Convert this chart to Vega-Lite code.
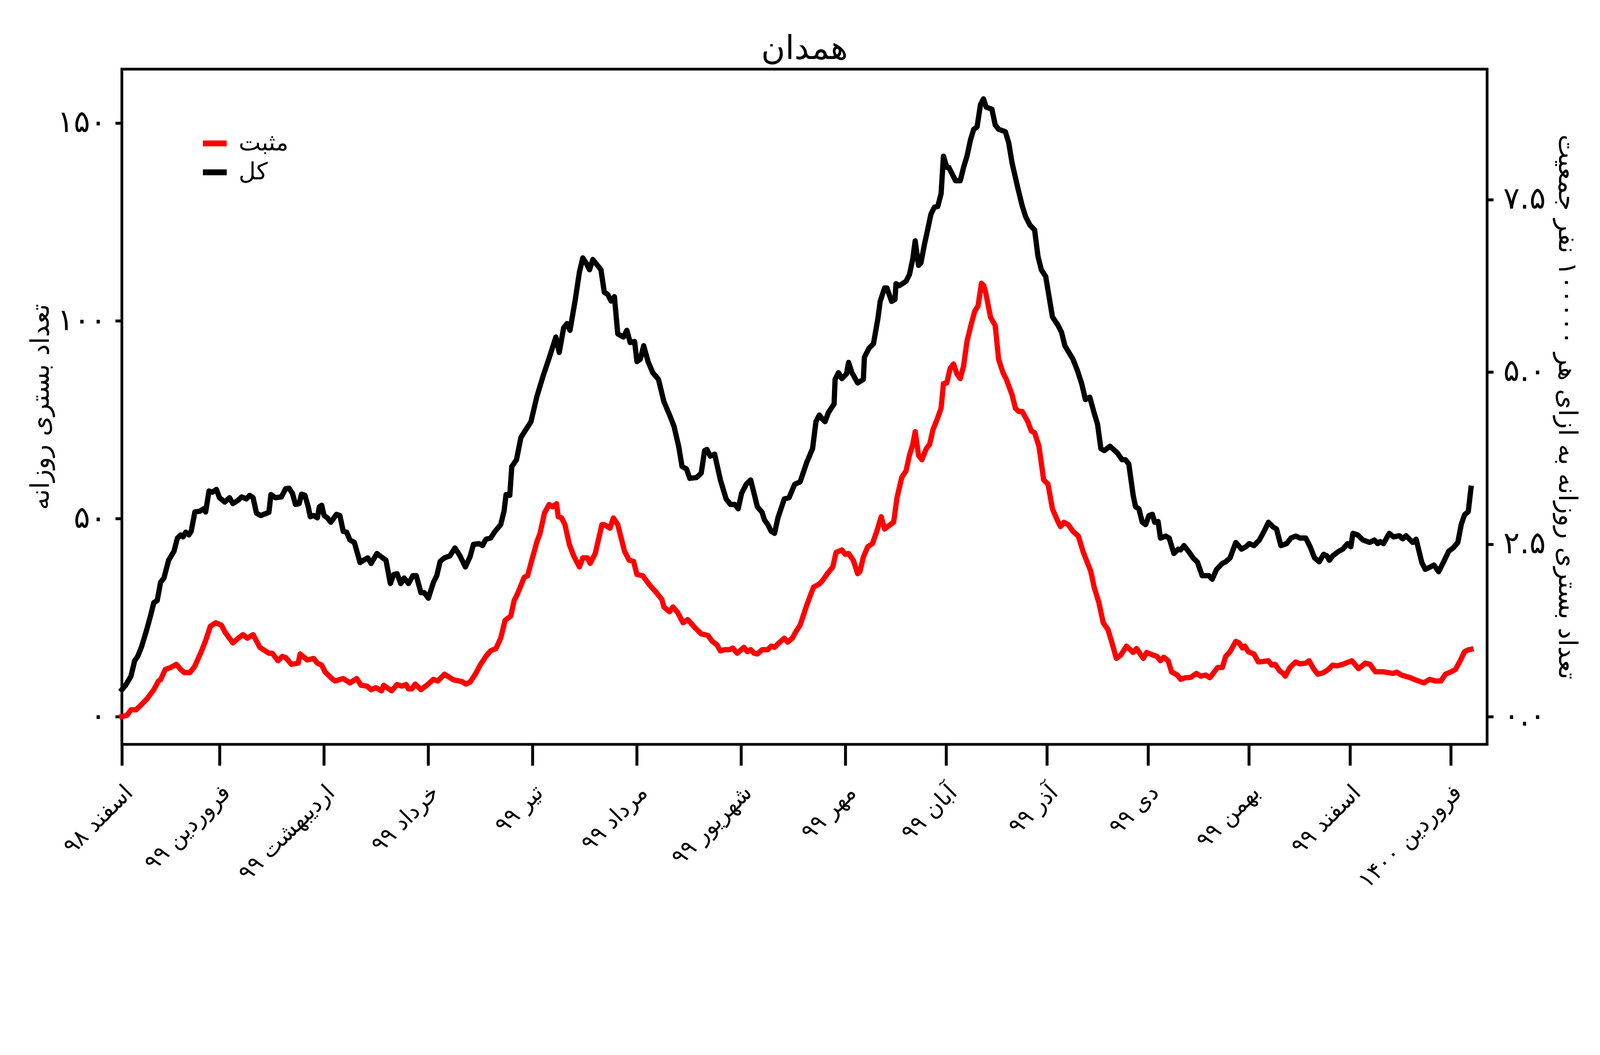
{
  "$schema": "https://vega.github.io/schema/vega-lite/v6.json",
  "width": 3495,
  "height": 1728,
  "autosize": {"type": "none"},
  "padding": {"left": 312, "top": 177, "right": 289, "bottom": 399},
  "background": "white",
  "title": {
    "text": "همدان",
    "font": "DejaVu Sans",
    "fontSize": 84,
    "fontWeight": "normal",
    "color": "black",
    "anchor": "middle",
    "frame": "group",
    "baseline": "alphabetic",
    "offset": -58
  },
  "config": {
    "font": "DejaVu Sans",
    "view": {"stroke": "black", "strokeWidth": 7},
    "axis": {
      "domain": false,
      "grid": false,
      "tickColor": "black",
      "tickWidth": 7.5,
      "labelColor": "black",
      "titleColor": "black",
      "labelFont": "DejaVu Sans",
      "titleFont": "DejaVu Sans",
      "labelFontSize": 78,
      "titleFontSize": 66,
      "titleFontWeight": "normal",
      "labelOverlap": false,
      "labelBound": false,
      "labelFlush": false,
      "labelLimit": 0
    },
    "legend": {
      "orient": "none",
      "legendX": 200,
      "legendY": 152,
      "title": null,
      "symbolType": "stroke",
      "symbolSize": 3721,
      "symbolStrokeWidth": 15,
      "labelFont": "DejaVu Sans",
      "labelFontSize": 60,
      "labelColor": "black",
      "labelOffset": 23,
      "rowPadding": 6
    }
  },
  "layer": [
    {
      "data": {
        "values": [
          {"d": 0, "s": "مثبت", "v": 0}, {"d": 1.5, "s": "مثبت", "v": 0.3}, {"d": 2.7, "s": "مثبت", "v": 1.7}, {"d": 4.2, "s": "مثبت", "v": 1.7},
          {"d": 5.8, "s": "مثبت", "v": 3}, {"d": 7.5, "s": "مثبت", "v": 4.5}, {"d": 9.5, "s": "مثبت", "v": 6.8}, {"d": 10.9, "s": "مثبت", "v": 9},
          {"d": 11.5, "s": "مثبت", "v": 9.3}, {"d": 12.9, "s": "مثبت", "v": 11.9}, {"d": 14.5, "s": "مثبت", "v": 12.4}, {"d": 16.2, "s": "مثبت", "v": 13.2},
          {"d": 17.5, "s": "مثبت", "v": 11.9}, {"d": 18.6, "s": "مثبت", "v": 11.1}, {"d": 20.2, "s": "مثبت", "v": 11.1}, {"d": 21.6, "s": "مثبت", "v": 12.6},
          {"d": 23.6, "s": "مثبت", "v": 16.4}, {"d": 24.9, "s": "مثبت", "v": 19.2}, {"d": 26.3, "s": "مثبت", "v": 22.8}, {"d": 27.9, "s": "مثبت", "v": 23.7},
          {"d": 29.6, "s": "مثبت", "v": 23.1}, {"d": 30.6, "s": "مثبت", "v": 21.4}, {"d": 33, "s": "مثبت", "v": 18.6}, {"d": 34.6, "s": "مثبت", "v": 19.8},
          {"d": 36, "s": "مثبت", "v": 20.7}, {"d": 37.3, "s": "مثبت", "v": 19.8}, {"d": 39, "s": "مثبت", "v": 20.7}, {"d": 41, "s": "مثبت", "v": 17.5},
          {"d": 43.7, "s": "مثبت", "v": 16}, {"d": 44.7, "s": "مثبت", "v": 16}, {"d": 46.4, "s": "مثبت", "v": 14.1}, {"d": 47.7, "s": "مثبت", "v": 15.2},
          {"d": 48.7, "s": "مثبت", "v": 14.9}, {"d": 50.4, "s": "مثبت", "v": 13.2}, {"d": 52.4, "s": "مثبت", "v": 13.5}, {"d": 53, "s": "مثبت", "v": 15.8},
          {"d": 55.1, "s": "مثبت", "v": 14.3}, {"d": 57, "s": "مثبت", "v": 14.7}, {"d": 58.1, "s": "مثبت", "v": 13.5}, {"d": 59.4, "s": "مثبت", "v": 13},
          {"d": 60.4, "s": "مثبت", "v": 11.3}, {"d": 62.4, "s": "مثبت", "v": 9.6}, {"d": 63.4, "s": "مثبت", "v": 9}, {"d": 65.8, "s": "مثبت", "v": 9.6},
          {"d": 67.8, "s": "مثبت", "v": 8.5}, {"d": 69.8, "s": "مثبت", "v": 9.6}, {"d": 71.1, "s": "مثبت", "v": 7.9}, {"d": 72.8, "s": "مثبت", "v": 7.7},
          {"d": 74.1, "s": "مثبت", "v": 6.8}, {"d": 75.5, "s": "مثبت", "v": 7.3}, {"d": 77.2, "s": "مثبت", "v": 6.5}, {"d": 77.8, "s": "مثبت", "v": 7.9},
          {"d": 80.2, "s": "مثبت", "v": 6.5}, {"d": 81.8, "s": "مثبت", "v": 8.1}, {"d": 83.2, "s": "مثبت", "v": 7.7}, {"d": 84.5, "s": "مثبت", "v": 8.1},
          {"d": 85.2, "s": "مثبت", "v": 7}, {"d": 86.2, "s": "مثبت", "v": 7}, {"d": 87.2, "s": "مثبت", "v": 8.2}, {"d": 88.9, "s": "مثبت", "v": 6.8},
          {"d": 90.9, "s": "مثبت", "v": 8.1}, {"d": 92.6, "s": "مثبت", "v": 9.4}, {"d": 93.9, "s": "مثبت", "v": 9}, {"d": 95.9, "s": "مثبت", "v": 10.7},
          {"d": 98.5, "s": "مثبت", "v": 9.3}, {"d": 101.2, "s": "مثبت", "v": 8.8}, {"d": 102.2, "s": "مثبت", "v": 8.2}, {"d": 103.5, "s": "مثبت", "v": 8.7},
          {"d": 105.2, "s": "مثبت", "v": 10.9}, {"d": 106.5, "s": "مثبت", "v": 13}, {"d": 108.2, "s": "مثبت", "v": 15.2}, {"d": 109.6, "s": "مثبت", "v": 16.6},
          {"d": 111.2, "s": "مثبت", "v": 17.2}, {"d": 112.6, "s": "مثبت", "v": 19.8}, {"d": 113.9, "s": "مثبت", "v": 24.3}, {"d": 115.6, "s": "مثبت", "v": 25.4},
          {"d": 116.6, "s": "مثبت", "v": 29.3}, {"d": 117.6, "s": "مثبت", "v": 31}, {"d": 119.6, "s": "مثبت", "v": 35.2}, {"d": 120.6, "s": "مثبت", "v": 35.6},
          {"d": 122.3, "s": "مثبت", "v": 40.9}, {"d": 123.3, "s": "مثبت", "v": 44}, {"d": 124.3, "s": "مثبت", "v": 46.3}, {"d": 125.6, "s": "مثبت", "v": 51.4},
          {"d": 127, "s": "مثبت", "v": 53.6}, {"d": 128, "s": "مثبت", "v": 53}, {"d": 129.2, "s": "مثبت", "v": 53.8}, {"d": 129.7, "s": "مثبت", "v": 50.5},
          {"d": 130.7, "s": "مثبت", "v": 50.2}, {"d": 131.7, "s": "مثبت", "v": 48.5}, {"d": 133, "s": "مثبت", "v": 43.5}, {"d": 134.3, "s": "مثبت", "v": 40.6},
          {"d": 136, "s": "مثبت", "v": 37.8}, {"d": 137, "s": "مثبت", "v": 40.1}, {"d": 138.4, "s": "مثبت", "v": 40.1}, {"d": 139.2, "s": "مثبت", "v": 38.7},
          {"d": 140.7, "s": "مثبت", "v": 41.2}, {"d": 142.7, "s": "مثبت", "v": 48.5}, {"d": 143.4, "s": "مثبت", "v": 48.5}, {"d": 145.1, "s": "مثبت", "v": 47.6},
          {"d": 146.1, "s": "مثبت", "v": 50.2}, {"d": 147.4, "s": "مثبت", "v": 48.5}, {"d": 149.4, "s": "مثبت", "v": 41.8}, {"d": 150.8, "s": "مثبت", "v": 39.5},
          {"d": 152.1, "s": "مثبت", "v": 39.2}, {"d": 153.1, "s": "مثبت", "v": 35.9}, {"d": 154.8, "s": "مثبت", "v": 35.6}, {"d": 156.8, "s": "مثبت", "v": 33.3},
          {"d": 158.8, "s": "مثبت", "v": 31.4}, {"d": 160.5, "s": "مثبت", "v": 29.6}, {"d": 161.1, "s": "مثبت", "v": 27.7}, {"d": 162.8, "s": "مثبت", "v": 26.5},
          {"d": 163.8, "s": "مثبت", "v": 27.7}, {"d": 165.2, "s": "مثبت", "v": 26.3}, {"d": 166.8, "s": "مثبت", "v": 23.7}, {"d": 168.2, "s": "مثبت", "v": 24.5},
          {"d": 170.2, "s": "مثبت", "v": 22.6}, {"d": 172.2, "s": "مثبت", "v": 20.9}, {"d": 174.2, "s": "مثبت", "v": 20.5}, {"d": 175.5, "s": "مثبت", "v": 19},
          {"d": 176.9, "s": "مثبت", "v": 18.1}, {"d": 177.9, "s": "مثبت", "v": 16.6}, {"d": 179.2, "s": "مثبت", "v": 16.9}, {"d": 180.6, "s": "مثبت", "v": 16.9},
          {"d": 181.6, "s": "مثبت", "v": 17.3}, {"d": 182.9, "s": "مثبت", "v": 16}, {"d": 184.9, "s": "مثبت", "v": 17.5}, {"d": 185.9, "s": "مثبت", "v": 16.4},
          {"d": 186.9, "s": "مثبت", "v": 16.9}, {"d": 187.9, "s": "مثبت", "v": 16}, {"d": 188.9, "s": "مثبت", "v": 15.8}, {"d": 190.3, "s": "مثبت", "v": 16.9},
          {"d": 192, "s": "مثبت", "v": 16.9}, {"d": 193, "s": "مثبت", "v": 17.8}, {"d": 194, "s": "مثبت", "v": 17.5}, {"d": 195.3, "s": "مثبت", "v": 18.6},
          {"d": 196.9, "s": "مثبت", "v": 19.8}, {"d": 197.9, "s": "مثبت", "v": 18.8}, {"d": 199.3, "s": "مثبت", "v": 19.8}, {"d": 200.3, "s": "مثبت", "v": 21.4},
          {"d": 201.6, "s": "مثبت", "v": 23.1}, {"d": 203.6, "s": "مثبت", "v": 28.2}, {"d": 204.6, "s": "مثبت", "v": 30.5}, {"d": 205.6, "s": "مثبت", "v": 32.7},
          {"d": 207.3, "s": "مثبت", "v": 33.5}, {"d": 208.3, "s": "مثبت", "v": 34.4}, {"d": 209.7, "s": "مثبت", "v": 36.1}, {"d": 211.3, "s": "مثبت", "v": 37.8},
          {"d": 212.3, "s": "مثبت", "v": 41.5}, {"d": 214, "s": "مثبت", "v": 42.1}, {"d": 215, "s": "مثبت", "v": 41}, {"d": 216, "s": "مثبت", "v": 41.2},
          {"d": 217.4, "s": "مثبت", "v": 39.5}, {"d": 218.7, "s": "مثبت", "v": 36.1}, {"d": 219.4, "s": "مثبت", "v": 36.7}, {"d": 220.4, "s": "مثبت", "v": 40.3},
          {"d": 221.7, "s": "مثبت", "v": 42.9}, {"d": 223.1, "s": "مثبت", "v": 43.7}, {"d": 224.4, "s": "مثبت", "v": 46.8}, {"d": 225.7, "s": "مثبت", "v": 50.5},
          {"d": 226.7, "s": "مثبت", "v": 47.4}, {"d": 228.4, "s": "مثبت", "v": 48.5}, {"d": 229.4, "s": "مثبت", "v": 49.1}, {"d": 230.4, "s": "مثبت", "v": 55.3},
          {"d": 231.8, "s": "مثبت", "v": 60.4}, {"d": 233.1, "s": "مثبت", "v": 62.1}, {"d": 234.1, "s": "مثبت", "v": 66}, {"d": 235.1, "s": "مثبت", "v": 68.8},
          {"d": 235.8, "s": "مثبت", "v": 72}, {"d": 236.8, "s": "مثبت", "v": 66}, {"d": 237.8, "s": "مثبت", "v": 64.9}, {"d": 239.1, "s": "مثبت", "v": 67.7},
          {"d": 240.1, "s": "مثبت", "v": 68.8}, {"d": 241.1, "s": "مثبت", "v": 72.5}, {"d": 242.5, "s": "مثبت", "v": 75.5}, {"d": 243.5, "s": "مثبت", "v": 77.9},
          {"d": 244.2, "s": "مثبت", "v": 84.1}, {"d": 245.2, "s": "مثبت", "v": 84.3}, {"d": 246.2, "s": "مثبت", "v": 88}, {"d": 247.2, "s": "مثبت", "v": 89.1},
          {"d": 248.2, "s": "مثبت", "v": 86.6}, {"d": 249.2, "s": "مثبت", "v": 85.4}, {"d": 250.2, "s": "مثبت", "v": 88.6}, {"d": 251.2, "s": "مثبت", "v": 94.8},
          {"d": 252.5, "s": "مثبت", "v": 99.3}, {"d": 253.5, "s": "مثبت", "v": 102.4}, {"d": 254.5, "s": "مثبت", "v": 103.8}, {"d": 255.5, "s": "مثبت", "v": 109.5},
          {"d": 256.2, "s": "مثبت", "v": 108.9}, {"d": 256.9, "s": "مثبت", "v": 106.6}, {"d": 258.2, "s": "مثبت", "v": 100.9}, {"d": 259.6, "s": "مثبت", "v": 98.8},
          {"d": 260.6, "s": "مثبت", "v": 90.3}, {"d": 261.9, "s": "مثبت", "v": 86.9}, {"d": 262.9, "s": "مثبت", "v": 85.2}, {"d": 264.6, "s": "مثبت", "v": 81.3},
          {"d": 265.6, "s": "مثبت", "v": 77.9}, {"d": 266.6, "s": "مثبت", "v": 77.1}, {"d": 267.6, "s": "مثبت", "v": 77.1}, {"d": 269.3, "s": "مثبت", "v": 74.5},
          {"d": 270.3, "s": "مثبت", "v": 72.2}, {"d": 271.3, "s": "مثبت", "v": 71.7}, {"d": 272.6, "s": "مثبت", "v": 68.3}, {"d": 274, "s": "مثبت", "v": 59.8},
          {"d": 275.3, "s": "مثبت", "v": 58.7}, {"d": 276.6, "s": "مثبت", "v": 52.5}, {"d": 278, "s": "مثبت", "v": 49.7}, {"d": 279, "s": "مثبت", "v": 48},
          {"d": 280, "s": "مثبت", "v": 49.1}, {"d": 281.3, "s": "مثبت", "v": 48.5}, {"d": 282.7, "s": "مثبت", "v": 46.8}, {"d": 284.3, "s": "مثبت", "v": 45.6},
          {"d": 285.7, "s": "مثبت", "v": 41.7}, {"d": 286.7, "s": "مثبت", "v": 39.5}, {"d": 288, "s": "مثبت", "v": 36.7}, {"d": 289, "s": "مثبت", "v": 32.7},
          {"d": 290.4, "s": "مثبت", "v": 28.8}, {"d": 291.7, "s": "مثبت", "v": 23.7}, {"d": 293.1, "s": "مثبت", "v": 22}, {"d": 294.1, "s": "مثبت", "v": 19.2},
          {"d": 295.6, "s": "مثبت", "v": 14.7}, {"d": 296.9, "s": "مثبت", "v": 15.5}, {"d": 298.6, "s": "مثبت", "v": 17.8}, {"d": 300.6, "s": "مثبت", "v": 16.2},
          {"d": 301.6, "s": "مثبت", "v": 17.2}, {"d": 303.6, "s": "مثبت", "v": 14.7}, {"d": 304.6, "s": "مثبت", "v": 16.2}, {"d": 306.3, "s": "مثبت", "v": 15.6},
          {"d": 307.7, "s": "مثبت", "v": 15.2}, {"d": 308.7, "s": "مثبت", "v": 14.1}, {"d": 309.7, "s": "مثبت", "v": 15}, {"d": 311, "s": "مثبت", "v": 14.1},
          {"d": 312, "s": "مثبت", "v": 11.3}, {"d": 313.7, "s": "مثبت", "v": 10.5}, {"d": 314.7, "s": "مثبت", "v": 9.4}, {"d": 316, "s": "مثبت", "v": 9.8},
          {"d": 317.7, "s": "مثبت", "v": 9.9}, {"d": 319.4, "s": "مثبت", "v": 10.9}, {"d": 320.7, "s": "مثبت", "v": 10.2}, {"d": 322.1, "s": "مثبت", "v": 10.5},
          {"d": 323.4, "s": "مثبت", "v": 9.8}, {"d": 325.7, "s": "مثبت", "v": 12.4}, {"d": 327.1, "s": "مثبت", "v": 12.4}, {"d": 328.1, "s": "مثبت", "v": 15.2},
          {"d": 329.4, "s": "مثبت", "v": 16.4}, {"d": 331.1, "s": "مثبت", "v": 19}, {"d": 332.1, "s": "مثبت", "v": 18.6}, {"d": 333.1, "s": "مثبت", "v": 17.3},
          {"d": 333.8, "s": "مثبت", "v": 17.8}, {"d": 334.8, "s": "مثبت", "v": 16.4}, {"d": 336.5, "s": "مثبت", "v": 15.8}, {"d": 337.8, "s": "مثبت", "v": 13.8},
          {"d": 339.1, "s": "مثبت", "v": 13.9}, {"d": 340.8, "s": "مثبت", "v": 14.1}, {"d": 341.8, "s": "مثبت", "v": 13}, {"d": 342.8, "s": "مثبت", "v": 13.2},
          {"d": 344.2, "s": "مثبت", "v": 11.5}, {"d": 345.2, "s": "مثبت", "v": 10.9}, {"d": 345.8, "s": "مثبت", "v": 10.2}, {"d": 347.2, "s": "مثبت", "v": 12.4},
          {"d": 348.9, "s": "مثبت", "v": 13.8}, {"d": 350.2, "s": "مثبت", "v": 13.3}, {"d": 351.9, "s": "مثبت", "v": 13.5}, {"d": 352.9, "s": "مثبت", "v": 14.1},
          {"d": 354.2, "s": "مثبت", "v": 12.1}, {"d": 355.5, "s": "مثبت", "v": 10.7}, {"d": 357.2, "s": "مثبت", "v": 11.1}, {"d": 358.6, "s": "مثبت", "v": 11.9},
          {"d": 359.9, "s": "مثبت", "v": 13}, {"d": 361.2, "s": "مثبت", "v": 12.8}, {"d": 362.9, "s": "مثبت", "v": 13.2}, {"d": 365.6, "s": "مثبت", "v": 14.1},
          {"d": 367.6, "s": "مثبت", "v": 12.1}, {"d": 369.6, "s": "مثبت", "v": 13.5}, {"d": 371, "s": "مثبت", "v": 13.2}, {"d": 372.6, "s": "مثبت", "v": 11.3},
          {"d": 375, "s": "مثبت", "v": 11.3}, {"d": 377.7, "s": "مثبت", "v": 10.9}, {"d": 379, "s": "مثبت", "v": 11.2}, {"d": 380.3, "s": "مثبت", "v": 10.5},
          {"d": 383, "s": "مثبت", "v": 9.8}, {"d": 384.4, "s": "مثبت", "v": 9.3}, {"d": 387, "s": "مثبت", "v": 8.5}, {"d": 388.7, "s": "مثبت", "v": 9.4},
          {"d": 390.4, "s": "مثبت", "v": 9}, {"d": 392.1, "s": "مثبت", "v": 9}, {"d": 393.4, "s": "مثبت", "v": 10.7}, {"d": 395.1, "s": "مثبت", "v": 11.3},
          {"d": 396.4, "s": "مثبت", "v": 11.9}, {"d": 397.8, "s": "مثبت", "v": 14.1}, {"d": 399.1, "s": "مثبت", "v": 16.4}, {"d": 400, "s": "مثبت", "v": 16.8},
          {"d": 401, "s": "مثبت", "v": 17},
          {"d": 0, "s": "کل", "v": 6.8}, {"d": 1.1, "s": "کل", "v": 7.9}, {"d": 2.7, "s": "کل", "v": 10.2}, {"d": 3.8, "s": "کل", "v": 14.1},
          {"d": 4.7, "s": "کل", "v": 15.2}, {"d": 5.8, "s": "کل", "v": 17.5}, {"d": 7.2, "s": "کل", "v": 21.4}, {"d": 8.5, "s": "کل", "v": 25.4},
          {"d": 9.5, "s": "کل", "v": 28.8}, {"d": 10.5, "s": "کل", "v": 29.3}, {"d": 11.5, "s": "کل", "v": 33.9}, {"d": 12.5, "s": "کل", "v": 35},
          {"d": 13.9, "s": "کل", "v": 39.5}, {"d": 15.5, "s": "کل", "v": 41.8}, {"d": 16.5, "s": "کل", "v": 45.1}, {"d": 17.5, "s": "کل", "v": 45.9},
          {"d": 18.2, "s": "کل", "v": 45.4}, {"d": 19, "s": "کل", "v": 46.6}, {"d": 19.9, "s": "کل", "v": 45.9}, {"d": 20.6, "s": "کل", "v": 46.8},
          {"d": 21.7, "s": "کل", "v": 51.7}, {"d": 23.2, "s": "کل", "v": 51.9}, {"d": 24.3, "s": "کل", "v": 52.5}, {"d": 24.9, "s": "کل", "v": 51.7},
          {"d": 25.9, "s": "کل", "v": 57}, {"d": 26.9, "s": "کل", "v": 56.7}, {"d": 28.1, "s": "کل", "v": 57.4}, {"d": 29, "s": "کل", "v": 55.3},
          {"d": 30.6, "s": "کل", "v": 54.2}, {"d": 32, "s": "کل", "v": 55.3}, {"d": 33, "s": "کل", "v": 53.8}, {"d": 34.6, "s": "کل", "v": 54.7},
          {"d": 35.6, "s": "کل", "v": 55.5}, {"d": 37, "s": "کل", "v": 55}, {"d": 38, "s": "کل", "v": 55.9}, {"d": 39, "s": "کل", "v": 55.3},
          {"d": 40, "s": "کل", "v": 51.4}, {"d": 41.3, "s": "کل", "v": 50.8}, {"d": 43.7, "s": "کل", "v": 51.6}, {"d": 44.3, "s": "کل", "v": 56.1},
          {"d": 45.7, "s": "کل", "v": 55.3}, {"d": 47.4, "s": "کل", "v": 55.5}, {"d": 48.7, "s": "کل", "v": 57.6}, {"d": 49.7, "s": "کل", "v": 57.7},
          {"d": 50.7, "s": "کل", "v": 56.4}, {"d": 51.6, "s": "کل", "v": 53.6}, {"d": 52.7, "s": "کل", "v": 53.8}, {"d": 53.4, "s": "کل", "v": 56.2},
          {"d": 54.4, "s": "کل", "v": 55.9}, {"d": 55.4, "s": "کل", "v": 53}, {"d": 56, "s": "کل", "v": 50.5}, {"d": 57, "s": "کل", "v": 50.8},
          {"d": 58.1, "s": "کل", "v": 50.2}, {"d": 58.7, "s": "کل", "v": 53}, {"d": 59.4, "s": "کل", "v": 53.4}, {"d": 60.1, "s": "کل", "v": 50.8},
          {"d": 61.1, "s": "کل", "v": 50.2}, {"d": 62.1, "s": "کل", "v": 49.1}, {"d": 63.8, "s": "کل", "v": 51.1}, {"d": 64.8, "s": "کل", "v": 50.8},
          {"d": 65.8, "s": "کل", "v": 46.8}, {"d": 66.8, "s": "کل", "v": 46.6}, {"d": 67.8, "s": "کل", "v": 44.6}, {"d": 69.1, "s": "کل", "v": 44},
          {"d": 70.8, "s": "کل", "v": 38.9}, {"d": 71.8, "s": "کل", "v": 39.5}, {"d": 73.1, "s": "کل", "v": 40.1}, {"d": 74.1, "s": "کل", "v": 38.7},
          {"d": 75.8, "s": "کل", "v": 41.2}, {"d": 77.2, "s": "کل", "v": 40.3}, {"d": 78.5, "s": "کل", "v": 39.5}, {"d": 79.8, "s": "کل", "v": 33.6},
          {"d": 80.8, "s": "کل", "v": 35.9}, {"d": 81.8, "s": "کل", "v": 36.1}, {"d": 82.9, "s": "کل", "v": 33.6}, {"d": 83.9, "s": "کل", "v": 35},
          {"d": 85.2, "s": "کل", "v": 33.6}, {"d": 86.5, "s": "کل", "v": 35.6}, {"d": 87.5, "s": "کل", "v": 35.6}, {"d": 88.9, "s": "کل", "v": 31.3},
          {"d": 89.9, "s": "کل", "v": 31.3}, {"d": 91.1, "s": "کل", "v": 29.9}, {"d": 92.6, "s": "کل", "v": 33.9}, {"d": 93.6, "s": "کل", "v": 35.6},
          {"d": 94.6, "s": "کل", "v": 39.2}, {"d": 95.9, "s": "کل", "v": 40.1}, {"d": 97.5, "s": "کل", "v": 40.6}, {"d": 99, "s": "کل", "v": 42.6},
          {"d": 100.5, "s": "کل", "v": 40.6}, {"d": 102.1, "s": "کل", "v": 37.8}, {"d": 103.5, "s": "کل", "v": 40.4}, {"d": 104.5, "s": "کل", "v": 43.5},
          {"d": 106.2, "s": "کل", "v": 43.7}, {"d": 107.2, "s": "کل", "v": 43.2}, {"d": 108.2, "s": "کل", "v": 44.8}, {"d": 109.6, "s": "کل", "v": 45.1},
          {"d": 110.9, "s": "کل", "v": 46.8}, {"d": 112.6, "s": "کل", "v": 48.5}, {"d": 113.6, "s": "کل", "v": 51.9}, {"d": 114.2, "s": "کل", "v": 56.1},
          {"d": 115.3, "s": "کل", "v": 55.9}, {"d": 115.9, "s": "کل", "v": 63.2}, {"d": 117.3, "s": "کل", "v": 64.9}, {"d": 118.6, "s": "کل", "v": 70.5},
          {"d": 120.3, "s": "کل", "v": 72.8}, {"d": 121.6, "s": "کل", "v": 74.5}, {"d": 123.3, "s": "کل", "v": 80.7}, {"d": 125.3, "s": "کل", "v": 86.3},
          {"d": 127, "s": "کل", "v": 90.6}, {"d": 129, "s": "کل", "v": 95.9}, {"d": 130, "s": "کل", "v": 92}, {"d": 131.3, "s": "کل", "v": 98.2},
          {"d": 132.3, "s": "کل", "v": 99.3}, {"d": 133.2, "s": "کل", "v": 97.6}, {"d": 134.7, "s": "کل", "v": 105}, {"d": 136, "s": "کل", "v": 112.3},
          {"d": 137, "s": "کل", "v": 115.9}, {"d": 138, "s": "کل", "v": 114.6}, {"d": 139, "s": "کل", "v": 112.9}, {"d": 140, "s": "کل", "v": 115.5},
          {"d": 142.4, "s": "کل", "v": 112.9}, {"d": 143.4, "s": "کل", "v": 107.2}, {"d": 144.4, "s": "کل", "v": 106.7}, {"d": 145.4, "s": "کل", "v": 105},
          {"d": 146.4, "s": "کل", "v": 106.1}, {"d": 147.4, "s": "کل", "v": 96.7}, {"d": 149.1, "s": "کل", "v": 95.9}, {"d": 150.1, "s": "کل", "v": 97.6},
          {"d": 151.1, "s": "کل", "v": 94.5}, {"d": 152.4, "s": "کل", "v": 94.8}, {"d": 153.1, "s": "کل", "v": 89.7}, {"d": 154.1, "s": "کل", "v": 90.3},
          {"d": 155.1, "s": "کل", "v": 93.7}, {"d": 156.4, "s": "کل", "v": 89.7}, {"d": 157.8, "s": "کل", "v": 86.9}, {"d": 159.5, "s": "کل", "v": 85.2},
          {"d": 161.1, "s": "کل", "v": 79.6}, {"d": 162.8, "s": "کل", "v": 76.2}, {"d": 164.1, "s": "کل", "v": 73.4}, {"d": 165.5, "s": "کل", "v": 68.3},
          {"d": 166.5, "s": "کل", "v": 63.2}, {"d": 167.8, "s": "کل", "v": 62.6}, {"d": 168.8, "s": "کل", "v": 60.2}, {"d": 170.8, "s": "کل", "v": 60.4},
          {"d": 172.2, "s": "کل", "v": 61.5}, {"d": 173.2, "s": "کل", "v": 67.2}, {"d": 173.9, "s": "کل", "v": 67.5}, {"d": 174.9, "s": "کل", "v": 65.8},
          {"d": 176.2, "s": "کل", "v": 66.3}, {"d": 177.9, "s": "کل", "v": 59.8}, {"d": 179.6, "s": "کل", "v": 55}, {"d": 180.9, "s": "کل", "v": 53.6},
          {"d": 182.2, "s": "کل", "v": 53.6}, {"d": 183.2, "s": "کل", "v": 52.5}, {"d": 184.2, "s": "کل", "v": 56.4}, {"d": 185.6, "s": "کل", "v": 58.7},
          {"d": 186.9, "s": "کل", "v": 59.8}, {"d": 187.9, "s": "کل", "v": 56.4}, {"d": 188.9, "s": "کل", "v": 53}, {"d": 190.3, "s": "کل", "v": 51.6},
          {"d": 191, "s": "کل", "v": 49.7}, {"d": 192, "s": "کل", "v": 48.5}, {"d": 193, "s": "کل", "v": 46.8}, {"d": 194, "s": "کل", "v": 46.3},
          {"d": 195, "s": "کل", "v": 50.2}, {"d": 196.9, "s": "کل", "v": 55}, {"d": 198.3, "s": "کل", "v": 55.3}, {"d": 200, "s": "کل", "v": 58.7},
          {"d": 201.6, "s": "کل", "v": 59.3}, {"d": 203.6, "s": "کل", "v": 64.3}, {"d": 205.3, "s": "کل", "v": 67.7}, {"d": 206.3, "s": "کل", "v": 74.5},
          {"d": 207.3, "s": "کل", "v": 76.2}, {"d": 208.3, "s": "کل", "v": 75.1}, {"d": 209, "s": "کل", "v": 74.5}, {"d": 210, "s": "کل", "v": 76.8},
          {"d": 211.7, "s": "کل", "v": 79}, {"d": 212, "s": "کل", "v": 85.2}, {"d": 213, "s": "کل", "v": 86.9}, {"d": 214, "s": "کل", "v": 85.4},
          {"d": 215.4, "s": "کل", "v": 86.6}, {"d": 216, "s": "کل", "v": 89.5}, {"d": 217, "s": "کل", "v": 86.9}, {"d": 218.7, "s": "کل", "v": 84.3},
          {"d": 220.4, "s": "کل", "v": 85.2}, {"d": 220.7, "s": "کل", "v": 90.8}, {"d": 222.1, "s": "کل", "v": 93.1}, {"d": 223.4, "s": "کل", "v": 94.2},
          {"d": 224.7, "s": "کل", "v": 100.5}, {"d": 225.4, "s": "کل", "v": 104.9}, {"d": 226.7, "s": "کل", "v": 108.3}, {"d": 227.4, "s": "کل", "v": 108.3},
          {"d": 228.8, "s": "کل", "v": 104.9}, {"d": 229.8, "s": "کل", "v": 105.4}, {"d": 230.1, "s": "کل", "v": 109.4}, {"d": 231.1, "s": "کل", "v": 108.9},
          {"d": 233.1, "s": "کل", "v": 110}, {"d": 234.1, "s": "کل", "v": 111.7}, {"d": 235.1, "s": "کل", "v": 115.7}, {"d": 235.8, "s": "کل", "v": 120.2},
          {"d": 236.8, "s": "کل", "v": 114}, {"d": 237.5, "s": "کل", "v": 114.6}, {"d": 238.5, "s": "کل", "v": 119.1}, {"d": 239.5, "s": "کل", "v": 123},
          {"d": 240.5, "s": "کل", "v": 127}, {"d": 241.5, "s": "کل", "v": 128.7}, {"d": 242.5, "s": "کل", "v": 128.9}, {"d": 243.5, "s": "کل", "v": 132.1},
          {"d": 244.2, "s": "کل", "v": 141.6}, {"d": 245.2, "s": "کل", "v": 138.8}, {"d": 245.8, "s": "کل", "v": 138.8}, {"d": 246.8, "s": "کل", "v": 137.1},
          {"d": 247.8, "s": "کل", "v": 135.4}, {"d": 249.2, "s": "کل", "v": 135.4}, {"d": 250.2, "s": "کل", "v": 138.8}, {"d": 251.2, "s": "کل", "v": 141.6},
          {"d": 252.2, "s": "کل", "v": 145.6}, {"d": 253.2, "s": "کل", "v": 148.4}, {"d": 254.2, "s": "کل", "v": 149}, {"d": 255.2, "s": "کل", "v": 154.6},
          {"d": 256.1, "s": "کل", "v": 156.1}, {"d": 256.9, "s": "کل", "v": 154}, {"d": 258.6, "s": "کل", "v": 153.5}, {"d": 259.6, "s": "کل", "v": 149.5},
          {"d": 260.6, "s": "کل", "v": 148.4}, {"d": 262.6, "s": "کل", "v": 147.8}, {"d": 263.6, "s": "کل", "v": 145}, {"d": 264.6, "s": "کل", "v": 139.9},
          {"d": 266.3, "s": "کل", "v": 133.6}, {"d": 267.6, "s": "کل", "v": 129.1}, {"d": 268.6, "s": "کل", "v": 126.4}, {"d": 269.9, "s": "کل", "v": 124.2},
          {"d": 271.3, "s": "کل", "v": 123}, {"d": 272.3, "s": "کل", "v": 116.3}, {"d": 273.3, "s": "کل", "v": 112.9}, {"d": 274.6, "s": "کل", "v": 111.2},
          {"d": 275.6, "s": "کل", "v": 106.1}, {"d": 276.6, "s": "کل", "v": 101}, {"d": 278.3, "s": "کل", "v": 98.8}, {"d": 279.3, "s": "کل", "v": 97.1},
          {"d": 280.3, "s": "کل", "v": 93.7}, {"d": 282.7, "s": "کل", "v": 90.3}, {"d": 284, "s": "کل", "v": 87.5}, {"d": 285.3, "s": "کل", "v": 84.1},
          {"d": 286.4, "s": "کل", "v": 80.1}, {"d": 287.7, "s": "کل", "v": 80.7}, {"d": 289, "s": "کل", "v": 76.7}, {"d": 290, "s": "کل", "v": 73.9},
          {"d": 291, "s": "کل", "v": 67.7}, {"d": 292, "s": "کل", "v": 67.2}, {"d": 293.7, "s": "کل", "v": 68.3}, {"d": 295.9, "s": "کل", "v": 66.6},
          {"d": 297.3, "s": "کل", "v": 64.9}, {"d": 298.3, "s": "کل", "v": 64.9}, {"d": 299.3, "s": "کل", "v": 63.8}, {"d": 300.6, "s": "کل", "v": 55.9},
          {"d": 301.3, "s": "کل", "v": 53}, {"d": 302.3, "s": "کل", "v": 52.5}, {"d": 303.3, "s": "کل", "v": 49.1}, {"d": 304.3, "s": "کل", "v": 48.5},
          {"d": 305.3, "s": "کل", "v": 50.8}, {"d": 306.3, "s": "کل", "v": 51.1}, {"d": 307, "s": "کل", "v": 49.1}, {"d": 308, "s": "کل", "v": 49.3},
          {"d": 308.7, "s": "کل", "v": 45.1}, {"d": 310.3, "s": "کل", "v": 45.6}, {"d": 311.3, "s": "کل", "v": 45.1}, {"d": 312.7, "s": "کل", "v": 41.2},
          {"d": 314, "s": "کل", "v": 42.3}, {"d": 314.7, "s": "کل", "v": 42.1}, {"d": 315.7, "s": "کل", "v": 43.2}, {"d": 317, "s": "کل", "v": 41.8},
          {"d": 318.4, "s": "کل", "v": 40.1}, {"d": 319.7, "s": "کل", "v": 39}, {"d": 321.1, "s": "کل", "v": 35.6}, {"d": 323.1, "s": "کل", "v": 35.6},
          {"d": 324.1, "s": "کل", "v": 34.7}, {"d": 325.4, "s": "کل", "v": 37.2}, {"d": 327.1, "s": "کل", "v": 38.7}, {"d": 328.1, "s": "کل", "v": 39.1},
          {"d": 329.4, "s": "کل", "v": 40.1}, {"d": 331.1, "s": "کل", "v": 44}, {"d": 332.8, "s": "کل", "v": 42.3}, {"d": 334.1, "s": "کل", "v": 42.9},
          {"d": 335.1, "s": "کل", "v": 43.7}, {"d": 336.5, "s": "کل", "v": 43.2}, {"d": 338.1, "s": "کل", "v": 44.6}, {"d": 339.5, "s": "کل", "v": 46.8},
          {"d": 340.8, "s": "کل", "v": 49.1}, {"d": 342.2, "s": "کل", "v": 47.9}, {"d": 343.2, "s": "کل", "v": 47.4}, {"d": 344.5, "s": "کل", "v": 43.2},
          {"d": 346.2, "s": "کل", "v": 43.7}, {"d": 347.5, "s": "کل", "v": 45.1}, {"d": 348.9, "s": "کل", "v": 45.6}, {"d": 350.2, "s": "کل", "v": 45.1},
          {"d": 351.9, "s": "کل", "v": 45.1}, {"d": 353.2, "s": "کل", "v": 42.9}, {"d": 354.5, "s": "کل", "v": 40.1}, {"d": 355.9, "s": "کل", "v": 39.1},
          {"d": 357.2, "s": "کل", "v": 41}, {"d": 358.2, "s": "کل", "v": 40.6}, {"d": 358.9, "s": "کل", "v": 39.5}, {"d": 359.9, "s": "کل", "v": 40.6},
          {"d": 361.6, "s": "کل", "v": 41.7}, {"d": 362.9, "s": "کل", "v": 42.3}, {"d": 364.3, "s": "کل", "v": 43.7}, {"d": 365.3, "s": "کل", "v": 42.9},
          {"d": 365.9, "s": "کل", "v": 46.3}, {"d": 367.3, "s": "کل", "v": 45.9}, {"d": 368.9, "s": "کل", "v": 44.6}, {"d": 370.9, "s": "کل", "v": 44},
          {"d": 372.3, "s": "کل", "v": 44.6}, {"d": 373.3, "s": "کل", "v": 43.7}, {"d": 374, "s": "کل", "v": 44.2}, {"d": 375, "s": "کل", "v": 43.7},
          {"d": 376.7, "s": "کل", "v": 46.3}, {"d": 378, "s": "کل", "v": 45.4}, {"d": 379.7, "s": "کل", "v": 45.7}, {"d": 380.7, "s": "کل", "v": 44.9},
          {"d": 381.7, "s": "کل", "v": 45.7}, {"d": 383.7, "s": "کل", "v": 44}, {"d": 384.7, "s": "کل", "v": 44.8}, {"d": 386.4, "s": "کل", "v": 38.9},
          {"d": 387.4, "s": "کل", "v": 37.2}, {"d": 388.7, "s": "کل", "v": 37.7}, {"d": 390, "s": "کل", "v": 38.3}, {"d": 391.4, "s": "کل", "v": 36.6},
          {"d": 393.1, "s": "کل", "v": 39.5}, {"d": 394.4, "s": "کل", "v": 41.8}, {"d": 395.7, "s": "کل", "v": 42.6}, {"d": 397.1, "s": "کل", "v": 44},
          {"d": 398.1, "s": "کل", "v": 48.5}, {"d": 399.1, "s": "کل", "v": 51}, {"d": 400.2, "s": "کل", "v": 51.8}, {"d": 401, "s": "کل", "v": 57.7}
        ]
      },
      "mark": {"type": "line", "strokeWidth": 13.5, "strokeJoin": "round", "strokeCap": "square"},
      "encoding": {
        "x": {
          "field": "d",
          "type": "quantitative",
          "scale": {"domain": [0, 405.8], "nice": false, "zero": false},
          "axis": {
            "title": null,
            "values": [0, 29, 60, 91, 122, 153, 184, 215, 245, 275, 305, 335, 365, 395],
            "labelExpr": "datum.value == 0 ? 'اسفند ۹۸' : datum.value == 29 ? 'فروردین ۹۹' : datum.value == 60 ? 'اردیبهشت ۹۹' : datum.value == 91 ? 'خرداد ۹۹' : datum.value == 122 ? 'تیر ۹۹' : datum.value == 153 ? 'مرداد ۹۹' : datum.value == 184 ? 'شهریور ۹۹' : datum.value == 215 ? 'مهر ۹۹' : datum.value == 245 ? 'آبان ۹۹' : datum.value == 275 ? 'آذر ۹۹' : datum.value == 305 ? 'دی ۹۹' : datum.value == 335 ? 'بهمن ۹۹' : datum.value == 365 ? 'اسفند ۹۹' : 'فروردین ۱۴۰۰'",
            "labelAngle": -45,
            "labelAlign": "right",
            "labelBaseline": "top",
            "labelFontSize": 58,
            "labelOffset": -2,
            "tickSize": 54,
            "labelPadding": 40
          }
        },
        "y": {
          "field": "v",
          "type": "quantitative",
          "scale": {"domain": [-7.03, 163.6], "nice": false, "zero": false},
          "axis": {
            "title": "تعداد بستری روزانه",
            "values": [0, 50, 100, 150],
            "labelExpr": "datum.value == 0 ? '۰' : datum.value == 50 ? '۵۰' : datum.value == 100 ? '۱۰۰' : '۱۵۰'",
            "tickSize": 17,
            "labelPadding": 23,
            "titlePadding": 8
          }
        },
        "color": {
          "field": "s",
          "type": "nominal",
          "scale": {"domain": ["مثبت", "کل"], "range": ["#ff0000", "#000000"]},
          "legend": {}
        }
      }
    },
    {
      "data": {"values": [{}]},
      "mark": {"type": "rule", "opacity": 0},
      "encoding": {
        "y": {
          "datum": 0,
          "type": "quantitative",
          "scale": {"domain": [-0.4035, 9.391], "nice": false, "zero": false},
          "axis": {
            "orient": "right",
            "title": "تعداد بستری روزانه به ازای هر ۱۰۰۰۰۰ نفر جمعیت",
            "values": [0, 2.5, 5, 7.5],
            "labelExpr": "datum.value == 0 ? '۰.۰' : datum.value == 2.5 ? '۲.۵' : datum.value == 5 ? '۵.۰' : '۷.۵'",
            "tickSize": 16,
            "labelPadding": 25,
            "titlePadding": 20
          }
        }
      }
    }
  ],
  "resolve": {"scale": {"y": "independent"}}
}
